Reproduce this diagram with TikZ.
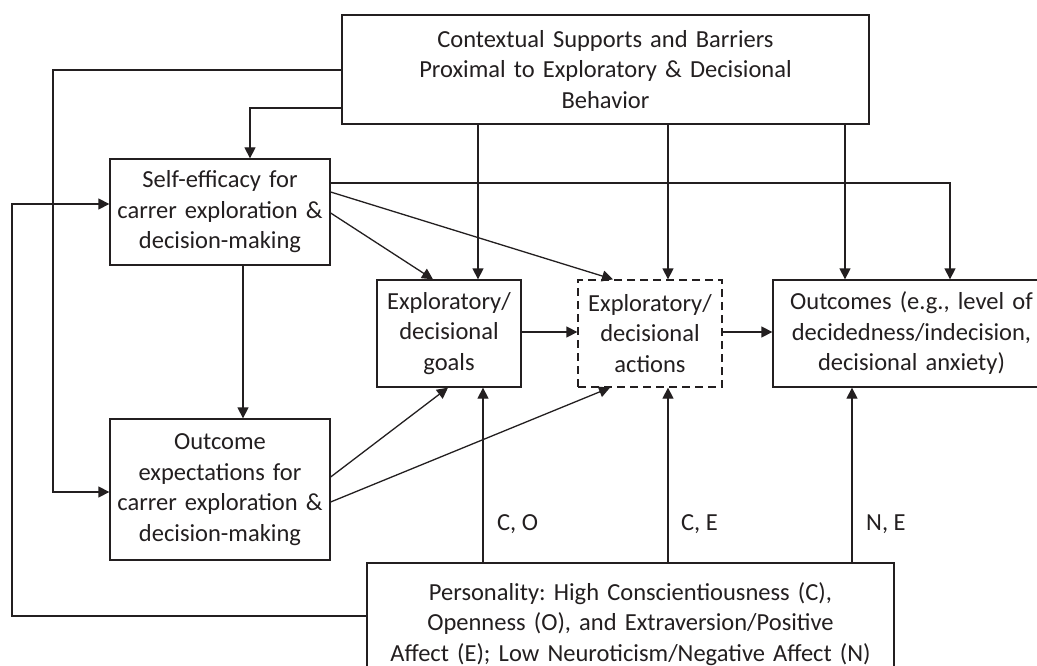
\documentclass[tikz,border=0pt]{standalone}
\usepackage{fontspec}
\setmainfont{Carlito}
\usetikzlibrary{arrows.meta}
\definecolor{ink}{RGB}{35,31,32}
\tikzset{
  bx/.style={draw=ink, line width=1.3pt, inner sep=0pt, align=center, text=ink,
    font=\fontsize{24.5}{30.5}\selectfont\frenchspacing},
  dbx/.style={bx, dash pattern=on 8pt off 5pt},
  arr/.style={draw=ink, line width=1.3pt, -{Triangle[length=11pt,width=11pt]}},
  lbl/.style={anchor=west, inner sep=0pt, text=ink, font=\fontsize{24.5}{30.5}\selectfont}
}
\begin{document}
\begin{tikzpicture}[x=1pt,y=-1pt]
\useasboundingbox (0,0) rectangle (1037,666);
\clip (0,0) rectangle (1037,666);
\fill[white] (0,0) rectangle (1037,666);
% nodes
\node[bx, text width=527pt, minimum height=109pt] (ctx) at (605.5,69.5)
  {Contextual Supports and Barriers\\Proximal to Exploratory \& Decisional\\Behavior};
\node[bx, text width=220pt, minimum height=106pt] (se) at (220,212)
  {Self-efficacy for\\carrer exploration \&\\decision-making};
\node[bx, text width=220pt, minimum height=141pt] (oe) at (220,489.5)
  {Outcome\\expectations for\\carrer exploration \&\\decision-making};
\node[bx, text width=144pt, minimum height=107pt] (goals) at (449,333.5)
  {Exploratory/\\decisional\\goals};
\node[dbx, text width=144pt, minimum height=107pt] (act) at (650,333.5)
  {Exploratory/\\decisional\\actions};
\node[bx, text width=277pt, minimum height=107pt] (out) at (911.5,333.5)
  {Outcomes (e.g., level of\\decidedness/indecision,\\decisional anxiety)};
\node[bx, text width=527pt, minimum height=122pt] (pers) at (630.5,624)
  {Personality: High Conscientiousness (C),\\Openness (O), and Extraversion/Positive\\Affect (E); Low Neuroticism/Negative Affect (N)};
% connectors from contextual box
\draw[arr] (ctx.west |- 0,108) -| (se.north -| 250,0);
\draw[arr] (ctx.west |- 0,70) -| (53,492) -- (oe.west |- 0,492);
\draw[arr] (ctx.south -| 478,0) -- (goals.north -| 478,0);
\draw[arr] (ctx.south -| 668,0) -- (act.north -| 668,0);
\draw[arr] (ctx.south -| 845,0) -- (out.north -| 845,0);
% personality loop
\draw[arr] (pers.west |- 0,616) -| (12,204) -- (se.west |- 0,204);
% self-efficacy
\draw[arr] (se.south -| 243,0) -- (oe.north -| 243,0);
\draw[arr] (se.east |- 0,183) -| (out.north -| 950,0);
\draw[arr] (se.east |- 0,192) -- (act.north -| 613,0);
\draw[arr] (se.east |- 0,213) -- (goals.north -| 433,0);
% outcome expectations
\draw[arr] (oe.east |- 0,477) -- (goals.south -| 448,0);
\draw[arr] (oe.east |- 0,502) -- (act.south -| 610,0);
% chain
\draw[arr] (goals.east |- 0,332) -- (act.west |- 0,332);
\draw[arr] (act.east |- 0,332) -- (out.west |- 0,332);
% personality arrows
\draw[arr] (pers.north -| 483,0) -- (goals.south -| 483,0);
\draw[arr] (pers.north -| 668,0) -- (act.south -| 668,0);
\draw[arr] (pers.north -| 852,0) -- (out.south -| 852,0);
\node[lbl] (lco) at (497,524) {C, O};
\node[lbl] (lce) at (681,524) {C, E};
\node[lbl] (lne) at (866,524) {N, E};
\end{tikzpicture}
\end{document}
